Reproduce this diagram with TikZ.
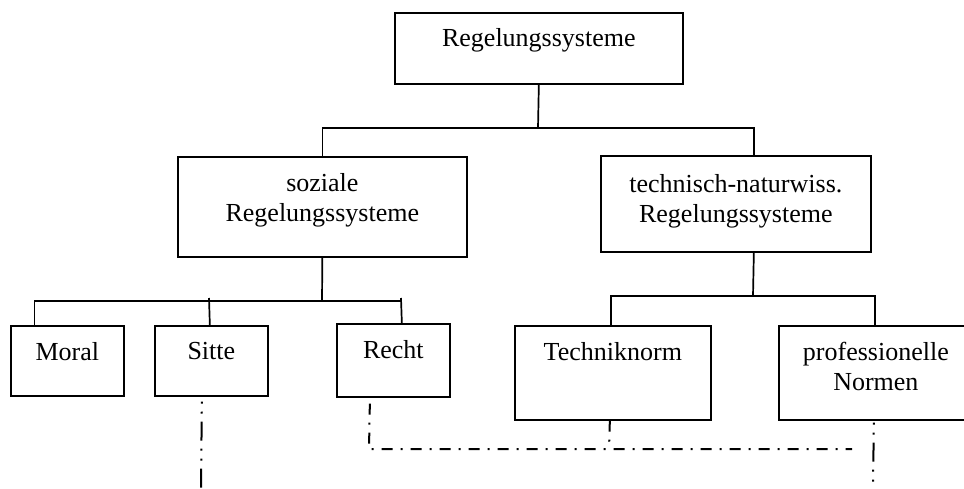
\documentclass[tikz,border=0pt]{standalone}
\usepackage{fontspec}
\setmainfont{Liberation Serif}
\usetikzlibrary{positioning}
\tikzset{>=latex}

\begin{document}
\begin{tikzpicture}
    [
      x=1pt, y=-1pt,
      box/.style={rectangle, draw, line width=1.7pt, anchor=north west, inner sep=0pt},
      lbl/.style={inner sep=0pt, align=center, font=\fontsize{26}{30}\selectfont},
      conn/.style={draw, line width=1.7pt},
      dashdot/.style={draw, line width=2pt, dash pattern=on 11pt off 8pt on 2pt off 8pt},
      dashdotdot/.style={draw, line width=2pt, dash pattern=on 2pt off 8pt on 2pt off 8pt on 19pt off 8pt}
    ]
    \clip (0,0) rectangle (964,488);
    \node (reg) [box, minimum width=288pt, minimum height=71pt] at (394,12) {};
    \node (soz) [box, minimum width=289pt, minimum height=100pt] at (177,156) {};
    \node (tech) [box, minimum width=270pt, minimum height=96pt] at (600,155) {};
    \node (moral) [box, minimum width=113pt, minimum height=70pt] at (10,325) {};
    \node (sitte) [box, minimum width=113pt, minimum height=70pt] at (154,325) {};
    \node (recht) [box, minimum width=113pt, minimum height=73pt] at (336,323) {};
    \node (tnorm) [box, minimum width=196pt, minimum height=94pt] at (514,325) {};
    \node (prof) [box, minimum width=194pt, minimum height=94pt] at (778,325) {};

    \node (reg-t) [lbl, below=16pt of reg.north] {Regelungssysteme};
    \node (soz-t) [lbl, below=17pt of soz.north] {soziale\\Regelungssysteme};
    \node (tech-t) [lbl, below=19pt of tech.north] {technisch-naturwiss.\\Regelungssysteme};
    \node (moral-t) [lbl, below=17pt of moral.north] {Moral};
    \node (sitte-t) [lbl, below=17pt of sitte.north] {Sitte};
    \node (recht-t) [lbl, below=17pt of recht.north] {Recht};
    \node (tnorm-t) [lbl, below=17pt of tnorm.north] {Techniknorm};
    \node (prof-t) [lbl, below=17pt of prof.north] {professionelle\\Normen};

    \coordinate (j-top) at (538,128);
    \coordinate (j-soz) at (322,301);
    \coordinate (j-sitte) at (209,298);
    \coordinate (j-recht) at (401,298);
    \coordinate (j-tech) at (753,296);
    \draw [conn] (reg.south) -- (j-top);
    \draw [conn] (j-top) -| (soz.north);
    \draw [conn] (j-top) -| ([xshift=18pt]tech.north);

    \draw [conn] (soz.south) -- (j-soz);
    \draw [conn] ([xshift=-33pt]moral.north) -- ++(0,-24) -- ++(367,0);
    \draw [conn] (j-sitte) -- ([xshift=-1.5pt]sitte.north);
    \draw [conn] (j-recht) -- ([xshift=8.5pt]recht.north);

    \draw [conn] ([xshift=18pt]tech.south) -- (j-tech);
    \draw [conn] (j-tech) -| ([xshift=-2pt]tnorm.north);
    \draw [conn] (j-tech) -| ([xshift=-1pt]prof.north);

    % dash-dotted links
    \coordinate (e-sitte) at (201,488);
    \coordinate (c-recht) at (369,449);
    \coordinate (c-tnorm) at (609,449);
    \coordinate (e-line) at (852,449);
    \coordinate (e-prof) at (873,488);
    \draw [dashdotdot] ([xshift=-9.5pt,yshift=-5pt]sitte.south) -- (e-sitte);
    \draw [dashdot] ([xshift=-23.5pt,yshift=-6pt]recht.south) -- (c-recht) -- (e-line);
    \draw [dashdot] ([xshift=-3pt]tnorm.south) -- (c-tnorm);
    \draw [dashdotdot] ([xshift=-2pt,yshift=-2pt]prof.south) -- (e-prof);
  \end{tikzpicture}
\end{document}
